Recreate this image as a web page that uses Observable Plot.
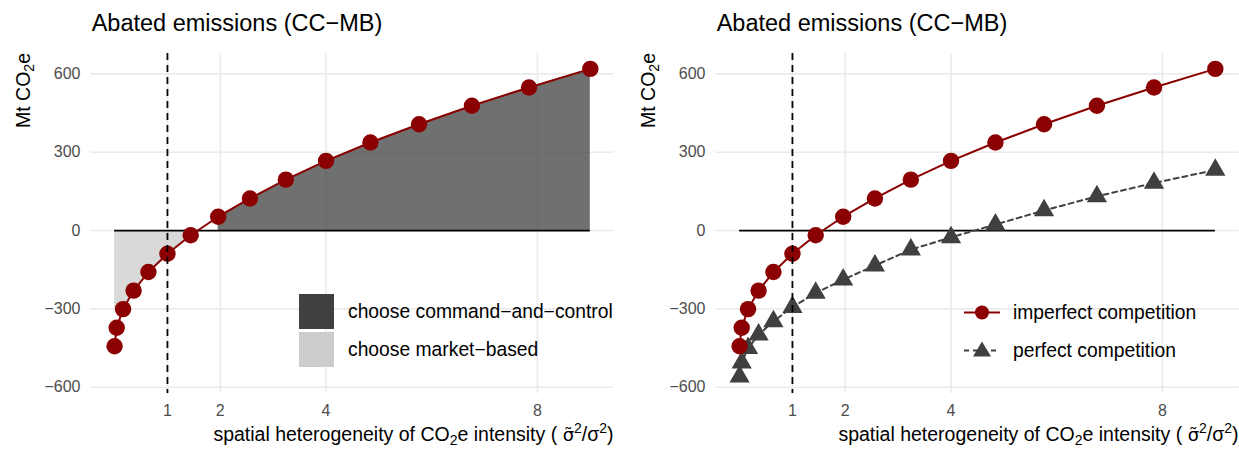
<!DOCTYPE html>
<html><head><meta charset="utf-8">
<script src="https://cdn.jsdelivr.net/npm/d3@7"></script>
<script src="https://cdn.jsdelivr.net/npm/@observablehq/plot@0.6"></script>
<style>
body{margin:0;background:#fff;font-family:"Liberation Sans",Arial,Helvetica,sans-serif;}
#wrap{position:relative;width:1239px;height:449px;overflow:hidden;background:#fff;}
.title{position:absolute;top:10px;font-size:23.5px;line-height:27px;color:#000;white-space:nowrap;}
.panel{position:absolute;top:45px;}
.leg{position:absolute;font-size:19.3px;line-height:35px;height:35px;white-space:nowrap;color:#000;}
.sw{position:absolute;width:35px;height:35px;}
</style></head><body><div id="wrap"></div>
<script>
// ---- data ----
const xVals = [0, 0.04, 0.16, 0.36, 0.64, 1, 1.44, 1.96, 2.56, 3.24, 4, 4.84, 5.76, 6.76, 7.84, 9];
const imperfect = [-443, -372, -301, -230, -159, -89, -18, 53, 123, 195, 267, 337, 407, 478, 548, 619];
const perfect = [-560, -506, -450, -399, -348, -293, -239, -188, -134, -73, -26, 23, 77, 131, 182, 232];
// shaded "market-based" region boundary as drawn in the reference
const mbAreaX = [0, 0.16, 0.36, 0.64, 1, 1.44];
const mbAreaY = [-300, -301, -230, -159, -89, -18];
const xTicks = [1, 2, 4, 8];
const yTicks = [-600, -300, 0, 300, 600];
const threshold = 1;
const titleText = "Abated emissions (CC\u2212MB)";
const legendLeft = ["choose command\u2212and\u2212control", "choose market\u2212based"];
const legendRight = ["imperfect competition", "perfect competition"];

const data = xVals.map((x, i) => ({x, imperfect: imperfect[i], perfect: perfect[i]}));
const ccData = data.filter(d => d.imperfect > 0).map(d => ({x: d.x, y: d.imperfect}));
const mbData = mbAreaX.map((x, i) => ({x, y: mbAreaY[i]}));

const RED = "#8b0000", DARK = "#404040";
const FONT = "'Liberation Sans', Arial, Helvetica, sans-serif";

function panel(which, width, marginRight) {
  const marks = [
    Plot.ruleY(yTicks, {stroke: "#ebebeb", strokeWidth: 1.6}),
    Plot.ruleX(xTicks, {stroke: "#ebebeb", strokeWidth: 1.6})
  ];
  if (which === "left") {
    marks.push(Plot.areaY(mbData, {x: "x", y1: 0, y2: "y", fill: "#cccccc", fillOpacity: 0.75}));
    marks.push(Plot.areaY(ccData, {x: "x", y1: 0, y2: "y", fill: DARK, fillOpacity: 0.75}));
  }
  marks.push(Plot.ruleY([0], {x1: d3.min(xVals), x2: d3.max(xVals), stroke: "#000", strokeWidth: 1.8}));
  if (which === "right") {
    marks.push(Plot.line(data, {x: "x", y: "perfect", stroke: DARK, strokeWidth: 2, strokeDasharray: "5,4"}));
    marks.push(Plot.dot(data, {x: "x", y: "perfect", symbol: "triangle", r: 7.5, fill: DARK, stroke: "none"}));
  }
  marks.push(Plot.line(data, {x: "x", y: "imperfect", stroke: RED, strokeWidth: 2}));
  marks.push(Plot.dot(data, {x: "x", y: "imperfect", r: 8.2, fill: RED, stroke: "none"}));
  marks.push(Plot.ruleX([threshold], {stroke: "#000", strokeWidth: 1.8, strokeDasharray: "7,5"}));
  marks.push(Plot.axisX(xTicks, {tickSize: 0, tickPadding: 11.5, fontSize: 16, color: "#4d4d4d", label: null}));
  marks.push(Plot.axisY(yTicks, {tickSize: 0, tickPadding: 10.3, fontSize: 16, color: "#4d4d4d", label: null}));
  const svg = Plot.plot({
    width, height: 404,
    marginLeft: 90.3, marginRight, marginTop: 8, marginBottom: 56,
    x: {domain: [-0.45, 9.45]},
    y: {domain: [-624, 678]},
    style: {fontFamily: FONT, fontSize: "16px", background: "transparent", overflow: "visible"},
    marks
  });
  const s = d3.select(svg);
  const yt = s.append("text")
    .attr("transform", "translate(29.5,8) rotate(-90)")
    .attr("text-anchor", "end").attr("font-size", 19.5).attr("fill", "#000")
    .attr("font-family", FONT);
  yt.append("tspan").text("Mt CO");
  yt.append("tspan").attr("font-size", 14).attr("dy", 4).text("2");
  yt.append("tspan").attr("dy", -4).text("e");
  const xt = s.append("text")
    .attr("transform", `translate(${width - marginRight},396)`)
    .attr("text-anchor", "end").attr("font-size", 19.5).attr("fill", "#000")
    .attr("font-family", FONT).style("white-space", "pre");
  xt.append("tspan").text("spatial heterogeneity of CO");
  xt.append("tspan").attr("font-size", 14).attr("dy", 4).text("2");
  xt.append("tspan").attr("dy", -4).text("e intensity ( ");
  xt.append("tspan").attr("font-family", "'DejaVu Sans', sans-serif").attr("font-size", 18).text("\u03c3\u0303");
  xt.append("tspan").attr("font-size", 14).attr("dy", -8).text("2");
  xt.append("tspan").attr("dy", 8).text("/\u03c3");
  xt.append("tspan").attr("font-size", 14).attr("dy", -8).text("2");
  xt.append("tspan").attr("dy", 8).text(")");
  return svg;
}

const wrap = document.getElementById("wrap");
function addTitle(left) {
  const t = document.createElement("div");
  t.className = "title"; t.style.left = left + "px"; t.textContent = titleText;
  wrap.appendChild(t);
}
addTitle(91.7);
addTitle(716.7);

const left = panel("left", 625, 11.4);
const lw = document.createElement("div"); lw.className = "panel"; lw.style.left = "0px";
lw.appendChild(left); wrap.appendChild(lw);
const right = panel("right", 614, 0.4);
const rw = document.createElement("div"); rw.className = "panel"; rw.style.left = "625px";
rw.appendChild(right); wrap.appendChild(rw);

// left legend
[[DARK, 294], ["#cccccc", 332]].forEach(([c, top], i) => {
  const sw = document.createElement("div"); sw.className = "sw";
  sw.style.left = "299px"; sw.style.top = top + "px"; sw.style.background = c;
  wrap.appendChild(sw);
  const tx = document.createElement("div"); tx.className = "leg";
  tx.style.left = "348px"; tx.style.top = top + "px"; tx.textContent = legendLeft[i];
  wrap.appendChild(tx);
});
// right legend
const keys = [
  `<svg width="36" height="35" style="position:absolute;left:964px;top:295px"><line x1="0" y1="17.5" x2="36" y2="17.5" stroke="${RED}" stroke-width="2"/><circle cx="18" cy="17.5" r="7" fill="${RED}"/></svg>`,
  `<svg width="36" height="35" style="position:absolute;left:964px;top:332.5px"><line x1="0" y1="17.5" x2="36" y2="17.5" stroke="${DARK}" stroke-width="2" stroke-dasharray="5,4"/><path d="M18,8.5 L27,23.5 L9,23.5 Z" fill="${DARK}"/></svg>`
];
keys.forEach((k, i) => {
  wrap.insertAdjacentHTML("beforeend", k);
  const tx = document.createElement("div"); tx.className = "leg";
  tx.style.left = "1013px"; tx.style.top = (i === 0 ? 295 : 332.5) + "px"; tx.textContent = legendRight[i];
  wrap.appendChild(tx);
});
</script></body></html>
